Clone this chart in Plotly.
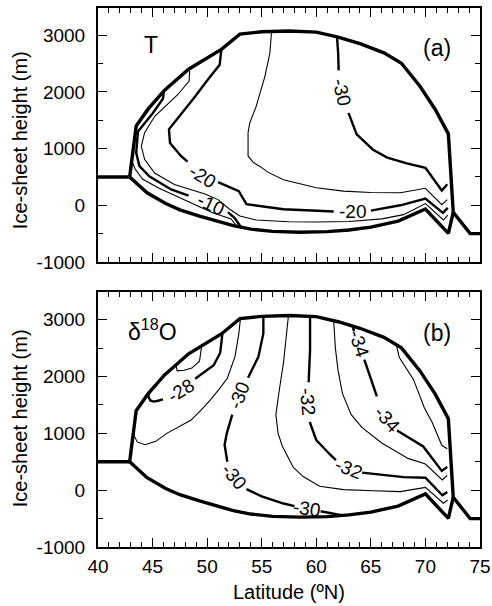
import plotly.graph_objects as go

# ---------------- data ----------------
lat_ticks = [40, 45, 50, 55, 60, 65, 70, 75]
lat_tick_text = ["40", "45", "50", "55", "60", "65", "70", "75"]
h_ticks = [-1000, 0, 1000, 2000, 3000]
h_tick_text = ["-1000", "0", "1000", "2000", "3000"]

# ice-sheet outline (upper surface + ends) and base
outline_lat = [40.0, 42.9, 43.5, 44.6, 46.1, 48.3, 51.3, 53.0, 55.0, 57.5, 60.0, 62.0, 64.0, 66.2, 67.8, 69.5, 70.9, 72.1, 72.55, 74.1, 75.0]
outline_h = [500, 500, 1400, 1700, 2030, 2400, 2750, 3020, 3060, 3075, 3055, 2965, 2850, 2690, 2505, 2100, 1690, 1260, -125, -500, -500]
base_lat = [42.9, 44.5, 46.2, 47.5, 49.3, 50.5, 52.4, 54.0, 56.0, 58.5, 61.0, 63.0, 65.0, 67.5, 70.0, 72.1, 72.55]
base_h = [500, 220, 30, -80, -190, -250, -360, -420, -460, -475, -465, -435, -385, -280, -65, -495, -125]

# ---- panel (a): temperature isolines (None = gap for label) ----
T_m30_lat = [61.9, 62.0, 62.05, None, 62.95, 63.7, 65.2, 66.5, 68.3, 70.0, 71.5, 72.0]
T_m30_h = [2965, 2700, 2380, None, 1630, 1250, 980, 840, 740, 660, 260, 370]
T_m25_lat = [55.9, 55.75, 55.3, 54.5, 53.9, 53.75, 53.75, 54.2, 54.8, 55.6, 57.0, 60.0, 62.5, 65.0, 67.7, 70.0, 71.5, 72.0]
T_m25_h = [3062, 2690, 2280, 1750, 1450, 1280, 870, 760, 690, 580, 450, 310, 250, 225, 220, 300, 10, 100]
T_m20_lat = [51.3, 51.15, 50.0, 48.9, 46.5, 46.6, 47.6, 48.2, None, 51.0, 52.9, 53.6, 57.0, 61.6, None, 65.0, 67.7, 70.0, 71.6, 72.05]
T_m20_h = [2750, 2480, 2200, 1920, 1340, 1100, 870, 770, None, 410, 250, 20, -70, -110, None, -95, 0, 120, -135, -45]
T_m15_lat = [48.4, 48.35, 47.3, 45.2, 44.27, 43.97, 44.27, 45.19, 47.0, 49.8, 51.0, 52.0, 53.0, 54.5, 57.5, 60.0, 63.0, 66.0, 68.0, 70.0, 71.65, 72.05]
T_m15_h = [2370, 2190, 1950, 1570, 1280, 1040, 810, 570, 365, 200, 100, -60, -190, -260, -290, -295, -285, -240, -165, 30, -260, -175]
T_m10_lat = [46.05, 45.95, 45.0, 44.2, 43.66, 43.5, 43.8, 44.7, 46.7, 48.3, None, 51.9, 52.5, 52.9, 53.15]
T_m10_h = [2020, 1880, 1620, 1420, 1300, 925, 690, 510, 280, 170, None, -120, -220, -330, -405]
T_m05_lat = [43.1, 43.4, 44.1, 45.6, 48.1, 50.5, 52.2, 52.8]
T_m05_h = [780, 640, 460, 300, 80, -130, -240, -390]

T_label_text = ["-20", "-10", "-20", "-30"]
T_label_lat = [49.6, 50.35, 63.3, 62.3]
T_label_h = [515, 10, -115, 2000]

# ---- panel (b): delta-18O isolines ----
O_m27_lat = [47.15, 47.25, 47.9, 48.6, 49.3, 49.45, 49.5]
O_m27_h = [2205, 2100, 2110, 2150, 2270, 2450, 2545]
O_m28_lat = [44.75, 44.6, 44.8, 45.1, 45.5, 45.95, None, 48.9, 49.8, 50.6, 51.2, 51.4]
O_m28_h = [1730, 1650, 1580, 1560, 1575, 1600, None, 1960, 2090, 2200, 2420, 2766]
O_m29_lat = [43.25, 43.6, 44.3, 45.3, 46.3, 47.4, 48.5, 49.4, 50.3, 51.1, 51.85, 52.55, 52.9, 53.05]
O_m29_h = [980, 850, 800, 860, 1000, 1120, 1230, 1400, 1590, 1780, 1970, 2350, 2750, 3015]
O_m30_lat = [55.15, 55.15, 54.7, 53.75, None, 52.3, 51.8, 51.6, 51.7, 51.85, None, 53.6, 55.0, 57.0, 58.0, None, 60.4, 61.3, 62.3]
O_m30_h = [3062, 2760, 2350, 1980, None, 1330, 1000, 800, 640, 500, None, 20, -110, -235, -280, None, -370, -400, -440]
O_m31_lat = [57.45, 57.2, 57.0, 56.6, 56.3, 56.5, 56.9, 57.9, 58.8, 60.3, 62.5, 65.2, 67.7, 70.0, 71.65, 72.05]
O_m31_h = [3075, 2600, 2250, 1750, 1330, 1000, 770, 400, 240, 70, 10, -10, -25, 50, -230, -170]
O_m32_lat = [59.43, 59.43, 59.3, None, 59.4, 60.0, 61.3, 61.8, None, 64.2, 65.5, 68.0, 70.0, 71.55, 72.0]
O_m32_h = [3058, 2470, 1900, None, 1200, 880, 620, 530, None, 310, 280, 230, 220, -90, -30]
O_m33_lat = [61.6, 61.75, 62.0, 62.4, 63.2, 64.2, 66.0, 68.4, 70.0, 71.55, 72.0]
O_m33_h = [2960, 2500, 2100, 1700, 1330, 1100, 830, 560, 460, 180, 260]
O_m34_lat = [63.35, 63.45, None, 64.4, 65.0, 65.55, None, 67.4, 68.3, 69.8, 71.5, 72.0]
O_m34_h = [2886, 2800, None, 2300, 1950, 1650, None, 1050, 940, 770, 340, 410]
O_m35_lat = [67.35, 67.6, 68.9, 69.9, 70.6, 71.5, 72.0]
O_m35_h = [2550, 2340, 1950, 1450, 1200, 790, 730]

O_label_text = ["-28", "-30", "-30", "-30", "-32", "-32", "-34", "-34"]
O_label_lat = [47.6, 52.95, 52.45, 59.1, 59.2, 62.95, 63.9, 66.5]
O_label_h = [1760, 1660, 235, -325, 1560, 385, 2580, 1240]

# ---------------- styles ----------------
FONT = "Liberation Sans"
THICK, THIN, EDGE = 2.4, 1.1, 3.4
T_label_angle = [32, 25, 0, 77]
O_label_angle = [-32, -68, 50, 8, 85, 22, 72, 48]

fig = go.Figure()


def add_line(lat, h, width, panel):
    fig.add_trace(go.Scatter(
        x=lat, y=h, mode="lines",
        line=dict(color="black", width=width),
        xaxis="x" if panel == 1 else "x2",
        yaxis="y" if panel == 1 else "y2",
        hoverinfo="skip", connectgaps=False, showlegend=False))


for p in (1, 2):
    add_line(outline_lat, outline_h, EDGE, p)
    add_line(base_lat, base_h, EDGE, p)

add_line(T_m30_lat, T_m30_h, THICK, 1)
add_line(T_m25_lat, T_m25_h, THIN, 1)
add_line(T_m20_lat, T_m20_h, THICK, 1)
add_line(T_m15_lat, T_m15_h, THIN, 1)
add_line(T_m10_lat, T_m10_h, THICK, 1)
add_line(T_m05_lat, T_m05_h, THIN, 1)

add_line(O_m27_lat, O_m27_h, THIN, 2)
add_line(O_m28_lat, O_m28_h, THICK, 2)
add_line(O_m29_lat, O_m29_h, THIN, 2)
add_line(O_m30_lat, O_m30_h, THICK, 2)
add_line(O_m31_lat, O_m31_h, THIN, 2)
add_line(O_m32_lat, O_m32_h, THICK, 2)
add_line(O_m33_lat, O_m33_h, THIN, 2)
add_line(O_m34_lat, O_m34_h, THICK, 2)
add_line(O_m35_lat, O_m35_h, THIN, 2)

annotations = []
for t, x, y, a in zip(T_label_text, T_label_lat, T_label_h, T_label_angle):
    annotations.append(dict(text=t, x=x, y=y, xref="x", yref="y", showarrow=False,
                            textangle=a, font=dict(family=FONT, size=19, color="black")))
for t, x, y, a in zip(O_label_text, O_label_lat, O_label_h, O_label_angle):
    annotations.append(dict(text=t, x=x, y=y, xref="x2", yref="y2", showarrow=False,
                            textangle=a, font=dict(family=FONT, size=19, color="black")))

big = dict(family=FONT, size=23, color="black")
annotations += [
    dict(text="T", x=44.9, y=2835, xref="x", yref="y", showarrow=False, font=big),
    dict(text="(a)", x=71.1, y=2780, xref="x", yref="y", showarrow=False, font=big),
    dict(text="δ<sup>18</sup>O", x=45.0, y=2824,
         xref="x2", yref="y2", showarrow=False, font=big),
    dict(text="(b)", x=71.1, y=2765, xref="x2", yref="y2", showarrow=False, font=big),
    dict(text="Latitude (ºN)", x=0.5, y=-0.0835, xref="paper", yref="paper", showarrow=False,
         xanchor="center", yanchor="middle", font=dict(family=FONT, size=20, color="black")),
    dict(text="Ice-sheet height (m)", x=-0.204, y=0.755, xref="paper", yref="paper",
         showarrow=False, textangle=-90, xanchor="center", yanchor="middle",
         font=dict(family=FONT, size=20, color="black")),
    dict(text="Ice-sheet height (m)", x=-0.204, y=0.239, xref="paper", yref="paper",
         showarrow=False, textangle=-90, xanchor="center", yanchor="middle",
         font=dict(family=FONT, size=20, color="black")),
]

axis_common = dict(showline=True, linewidth=2, linecolor="black", mirror="allticks",
                   ticks="inside", ticklen=9, tickwidth=1.3, tickcolor="black",
                   showgrid=False, zeroline=False, automargin=False,
                   tickfont=dict(family=FONT, size=19, color="black"))
xminor = dict(ticks="inside", ticklen=5, tickwidth=1.3, tickcolor="black", dtick=1, tick0=40)
yminor = dict(ticks="inside", ticklen=5, tickwidth=1.3, tickcolor="black", dtick=500, tick0=-1000)

fig.update_layout(
    width=492, height=606,
    margin=dict(l=98, r=12, t=8, b=59),
    paper_bgcolor="white", plot_bgcolor="white",
    showlegend=False,
    xaxis=dict(**axis_common, domain=[0, 1], anchor="y", range=[40, 75],
               tickmode="array", tickvals=lat_ticks, ticktext=lat_tick_text,
               showticklabels=False, minor=xminor, ticklabelstandoff=1),
    yaxis=dict(**axis_common, domain=[0.5288, 1], anchor="x", range=[-1000, 3480],
               tickmode="array", tickvals=h_ticks, ticktext=h_tick_text, minor=yminor,
               ticklabelstandoff=7),
    xaxis2=dict(**axis_common, domain=[0, 1], anchor="y2", range=[40, 75],
                tickmode="array", tickvals=lat_ticks, ticktext=lat_tick_text,
                showticklabels=True, minor=xminor, ticklabelstandoff=1),
    yaxis2=dict(**axis_common, domain=[0, 0.4722], anchor="x2", range=[-1000, 3480],
                tickmode="array", tickvals=h_ticks, ticktext=h_tick_text, minor=yminor,
                ticklabelstandoff=7),
    annotations=annotations,
)

# remove the browser's default page margin so the 492x606 figure fills the window exactly
fig.write_html("out.html",
               config={"displayModeBar": False},
               post_script="document.body.style.margin='0px';"
                           "document.body.style.overflow='hidden';")
